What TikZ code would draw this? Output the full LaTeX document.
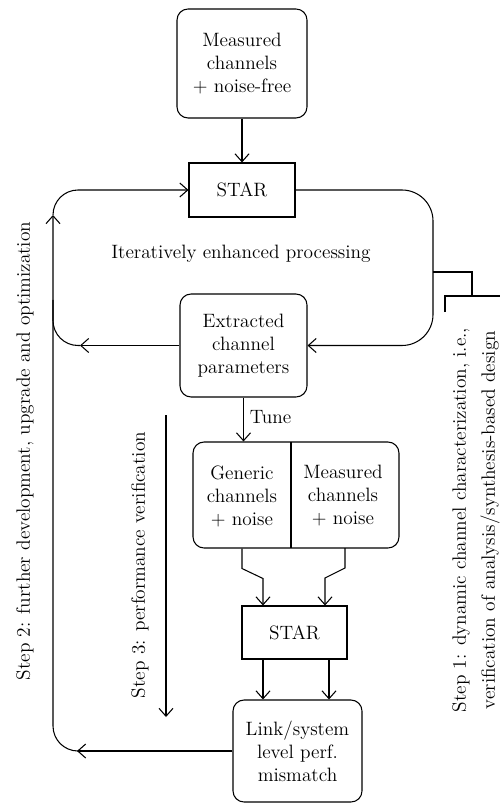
\documentclass[tikz,border=0pt]{standalone}
\usepackage{tikz}
\usetikzlibrary{arrows.meta}
\tikzset{
  box/.style={draw, rounded corners=0.22cm, align=center, inner sep=0pt},
  sqbox/.style={draw, align=center, inner sep=0pt},
}
\begin{document}
\begin{tikzpicture}[x=0.02cm, y=-0.02cm, line width=0.6pt, >={Straight Barb[length=4.5pt, width=8pt]}, font=\fontsize{11}{13.1}\selectfont]
\useasboundingbox (0,0) rectangle (500,803);

\node [box, minimum width=2.6cm, minimum height=2.18cm] (meas) at (242,63.5) {Measured\\channels\\+ noise-free};
\node [sqbox, minimum width=2.12cm, minimum height=1.08cm] (star1) at (242,190) {STAR};
\node [box, minimum width=2.54cm, minimum height=2.06cm] (ext) at (243.5,345.5) {Extracted\\channel\\parameters};
\node [box, minimum width=4.12cm, minimum height=2.12cm] (chan) at (296,495) {};
\node [align=center] (gen) at (242,496) {Generic\\channels\\+ noise};
\node [align=center] (mch) at (343,496) {Measured\\channels\\+ noise};
\node [sqbox, minimum width=2.1cm, minimum height=1.06cm] (star2) at (294.5,632.5) {STAR};
\node [box, minimum width=2.58cm, minimum height=2.04cm] (link) at (297.5,751) {Link/system\\level perf.\\mismatch};

\node (iter) at (241,254) {Iteratively enhanced processing};
\node [rotate=90] (step2) at (25,451) {Step 2: further development, upgrade and optimization};
\node [rotate=90] (step3) at (140,565) {Step 3: performance verification};
\node [rotate=90, align=center, font=\fontsize{11}{16.5}\selectfont] (step1) at (476,520)
  {Step 1: dynamic channel characterization, i.e.,\\verification of analysis/synthesis-based design};

\coordinate (rside) at (433,270);
\coordinate (ltip) at (80,345.5);
\coordinate (btip) at (77,751);
\coordinate (ltop) at (53,215);
\coordinate (s3top) at (166,415);
\coordinate (s3end) at (166,717);

% step 1 loop
\draw [->] (meas) -- (star1);
\draw [->, rounded corners=0.62cm] (star1.east) -| (rside) |- (ext.east);
\draw [->] (ext.west) -- (ltip);
\draw [rounded corners=0.5cm] (ltip) -| (53,300);
\draw [->, rounded corners=0.5cm] (ltop) |- (star1.west);
\draw (433,272) -- (472,272) -- (472,296);
\draw (445,312) -- (445,296) -- (500,296);

% step 3
\draw [->] (ext.south) -- node [right, pos=0.45] {Tune} (ext.south |- chan.north);
\draw (291,442) -- (291,548);
\draw [->] (gen |- chan.south) -- ++(0,20) -- ++(21,10) -- (star2.north -| 263,0);
\draw [->] (345,548) -- ++(0,20) -- ++(-20,10) -- (star2.north -| 325,0);
\draw [->] (star2.south -| 263,0) -- (link.north -| 263,0);
\draw [->] (star2.south -| 329,0) -- (link.north -| 329,0);
\draw [->] (s3top) -- (s3end);

% step 2
\draw [->] (link.west) -- (btip);
\draw [->, rounded corners=0.5cm] (btip) -| (ltop);
\end{tikzpicture}
\end{document}
